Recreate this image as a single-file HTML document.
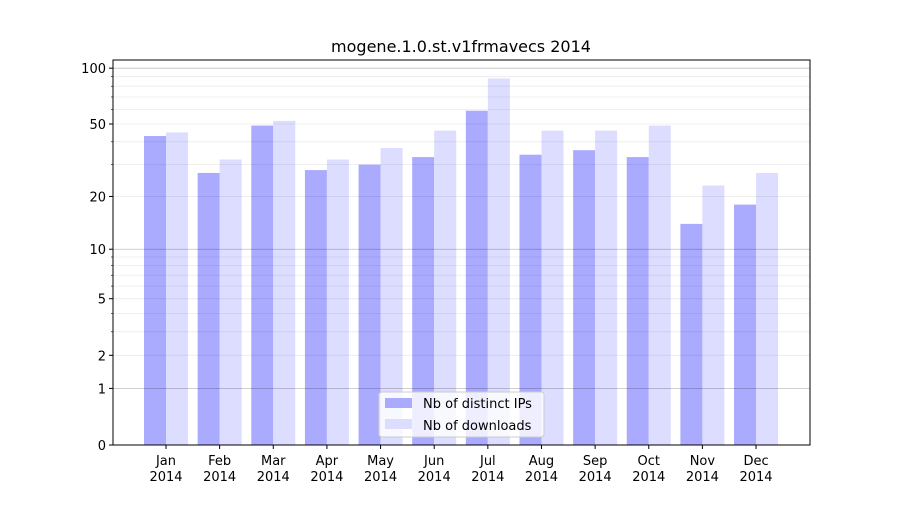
<!DOCTYPE html>
<html><head><meta charset="utf-8"><style>
body{margin:0;background:#fff;font-family:"Liberation Sans","DejaVu Sans",sans-serif}
</style></head><body>
<svg id="chart" width="900" height="500" xmlns="http://www.w3.org/2000/svg" font-family="DejaVu Sans, Liberation Sans, sans-serif">
<rect width="900" height="500" fill="#fff"/>
<text x="461" y="52" text-anchor="middle" font-size="16">mogene.1.0.st.v1frmavecs 2014</text>
<g id="bars"></g><g id="grid"></g><g id="axes"></g>
</svg>
<script>
const months=["Jan","Feb","Mar","Apr","May","Jun","Jul","Aug","Sep","Oct","Nov","Dec"];
const ips=[43,27,49,28,30,33,59,34,36,33,14,18];
const downloads=[45,32,52,32,37,46,88,46,46,49,23,27];
const yTicks=[0,1,2,5,10,20,50,100];
const L=113,R=810,T=60,B=445;
const ns="http://www.w3.org/2000/svg";
function y(v){return B-188*Math.log10(v+1);}
function xc(i){return 166+i*53.64;}
function mk(tag,attrs,parent,txt){const e=document.createElementNS(ns,tag);for(const k in attrs)e.setAttribute(k,attrs[k]);if(txt!==undefined)e.textContent=txt;parent.appendChild(e);return e;}
const grid=document.getElementById('grid'),bars=document.getElementById('bars'),axes=document.getElementById('axes');
const minors=[];for(const d of [1,10])for(let k=2;k<=9;k++)minors.push(k*d);
minors.forEach(v=>{const g=mk('line',{x1:L,x2:R,y1:y(v),y2:y(v),stroke:'#000','stroke-opacity':0.08,'stroke-width':0.8},grid);

});
[1,10,100].forEach(v=>{const g=mk('line',{x1:L,x2:R,y1:y(v),y2:y(v),stroke:'#000','stroke-opacity':0.25,'stroke-width':0.8},grid);

});
months.forEach((m,i)=>{
 const b1=mk('rect',{x:xc(i)-22,y:y(ips[i]),width:22,height:B-y(ips[i]),fill:'#aaaaff'},bars);
 
 
 const b2=mk('rect',{x:xc(i),y:y(downloads[i]),width:22,height:B-y(downloads[i]),fill:'#ddddff'},bars);
 
 
 mk('line',{x1:xc(i),x2:xc(i),y1:B,y2:B+4,stroke:'#000'},axes);
 const t=mk('text',{x:xc(i),y:B+20,'text-anchor':'middle','font-size':13},axes,m);
 
 
 const t2=mk('text',{x:xc(i),y:B+36,'text-anchor':'middle','font-size':13},axes,'2014');
 
 
});
yTicks.forEach(v=>{mk('line',{x1:L-4,x2:L,y1:y(v),y2:y(v),stroke:'#000'},axes);
 const t=mk('text',{x:L-7,y:y(v)+5,'text-anchor':'end','font-size':13},axes,String(v));
 
 });
minors.forEach(v=>mk('line',{x1:L-2,x2:L,y1:y(v),y2:y(v),stroke:'#000','stroke-width':0.6},axes));
const fr=mk('rect',{x:L,y:T,width:R-L,height:B-T,fill:'none',stroke:'#000','stroke-width':1},axes);


const lg=mk('g',{},axes);


mk('rect',{x:379,y:392,width:165,height:45,rx:3,fill:'#fff','fill-opacity':0.8,stroke:'#ccc'},lg);
mk('rect',{x:385,y:398,width:27,height:10,fill:'#aaaaff'},lg);
mk('text',{x:423,y:408,'font-size':13},lg,'Nb of distinct IPs');
mk('rect',{x:385,y:419,width:27,height:10,fill:'#ddddff'},lg);
mk('text',{x:423,y:430,'font-size':13},lg,'Nb of downloads');
</script>
</body></html>
